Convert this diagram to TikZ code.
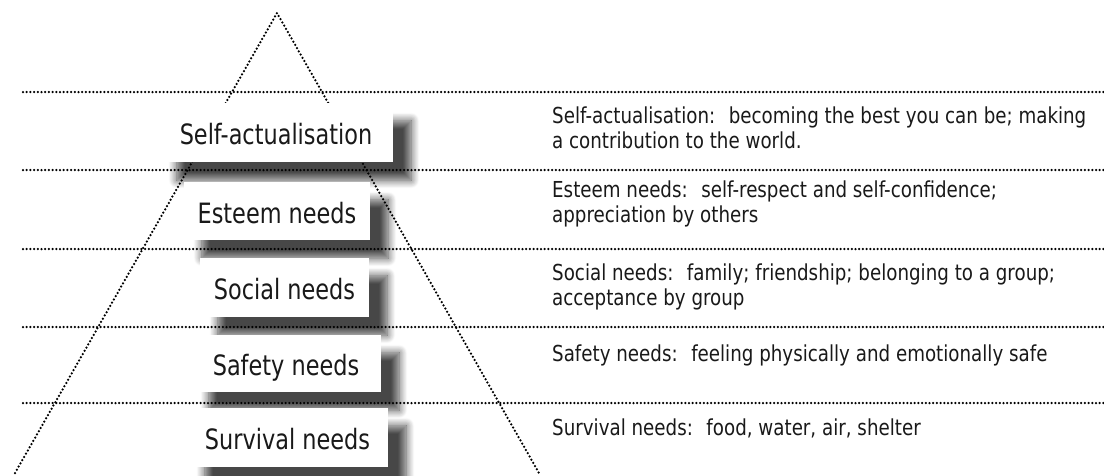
\documentclass[tikz,border=0pt]{standalone}
\usepackage{fontspec}
\newfontfamily\handfont[FakeStretch=0.8]{DejaVu Sans}
\newfontfamily\notefont[FakeStretch=0.83]{DejaVu Sans}
\usetikzlibrary{shadows.blur}
\pgfdeclarelayer{shade}
\pgfdeclarelayer{rules}
\pgfsetlayers{shade,rules,main}
\tikzset{
  needbox/.style={fill=white, inner sep=0pt, text height=24pt, text depth=0pt,
    font=\handfont\fontsize{28}{30}\selectfont, text=black!90},
  needtext/.style={anchor=base west, align=left, inner sep=0pt,
    font=\notefont\fontsize{22}{25}\selectfont, text=black!90},
  dotline/.style={line width=2.5pt, line cap=round, dash pattern=on 0pt off 3.7pt},
  boxshade/.style={blur shadow={shadow xshift=18pt, shadow yshift=-18pt,
    shadow blur radius=8pt, shadow blur steps=12, shadow opacity=72}},
}

\begin{document}
\begin{tikzpicture}[x=1pt, y=-1pt]
  \useasboundingbox (0,0) rectangle (1104,475);
  % ---------------- pyramid levels -----------------------------------------
  \node[needbox, minimum width=234pt, minimum height=59pt] (selfact) at (276,132.5) {Self-actualisation};
  \node[needbox, minimum width=186pt, minimum height=58pt] (esteem) at (277,211) {Esteem needs};
  \node[needbox, minimum width=169pt, minimum height=59pt] (social) at (284.5,287.5) {Social needs};
  \node[needbox, minimum width=190pt, minimum height=57pt] (safety) at (286,363.5) {Safety needs};
  \node[needbox, minimum width=201pt, minimum height=59pt] (survival) at (287.5,437.5) {Survival needs};
  % ---------------- shadows under the boxes --------------------------------
  \begin{pgfonlayer}{shade}
    \foreach \n in {selfact,esteem,social,safety,survival}
      { \fill[white, boxshade] (\n.south west) rectangle (\n.north east); }
  \end{pgfonlayer}
  % ---------------- dotted pyramid and level lines -------------------------
  \begin{pgfonlayer}{rules}
    \coordinate (apex) at (277,13);
    \coordinate (baseL) at (15,473);
    \coordinate (baseR) at (539,473);
    \draw[dotline] (baseL) -- (apex) -- (baseR);
    \foreach \y in {92,170,249,327,403} { \draw[dotline] (23,\y) -- (1104,\y); }
  \end{pgfonlayer}
  % ---------------- descriptions (base = last line) ------------------------
  \node[needtext] (selfactdesc) at (552,148)
    {Self-actualisation:~ becoming the best you can be; making\\a contribution to the world.};
  \node[needtext] (esteemdesc) at (552,222)
    {Esteem needs:~ self-respect and self-confidence;\\appreciation by others};
  \node[needtext] (socialdesc) at (552,305)
    {Social needs:~ family; friendship; belonging to a group;\\acceptance by group};
  \node[needtext] (safetydesc) at (552,361)
    {Safety needs:~ feeling physically and emotionally safe};
  \node[needtext] (survivaldesc) at (552,435)
    {Survival needs:~ food, water, air, shelter};
\end{tikzpicture}
\end{document}
